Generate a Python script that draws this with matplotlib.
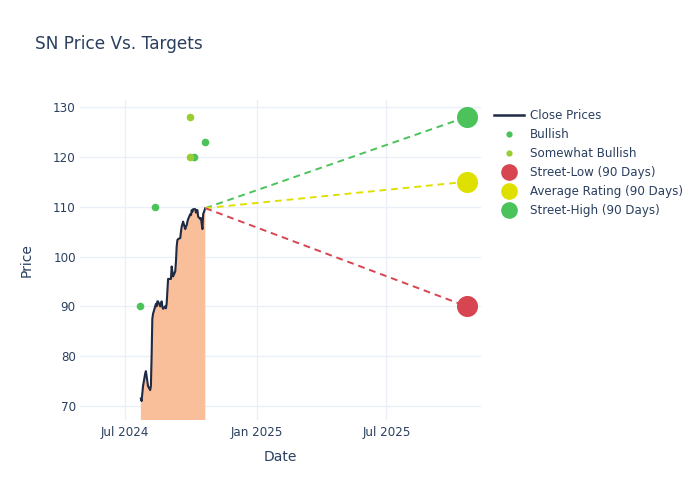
import matplotlib
matplotlib.use("Agg")
import matplotlib.pyplot as plt
import matplotlib.dates as mdates
from matplotlib.lines import Line2D
import pandas as pd

# ---- data ----
price_start = "2024-07-23"
price_end = "2024-10-21"
close_prices = [
    71.5, 71.0, 72.5, 74.0, 76.5, 77.0, 76.0,            # Jul 23-31
    75.0, 74.0, 73.2, 74.0, 80.0, 87.5, 88.5,            # Aug 1-9
    90.0, 90.5, 90.0, 91.0, 91.0,                        # Aug 12-16
    90.0, 90.5, 91.0, 90.0, 89.5,                        # Aug 19-23
    90.0, 89.6, 90.5, 93.0, 95.5,                        # Aug 26-30
    95.5, 95.5, 98.0, 97.0, 96.0,                        # Sep 2-6
    97.0, 99.0, 102.0, 103.3, 103.5,                     # Sep 9-13
    103.7, 105.0, 106.0, 106.5, 107.0,                   # Sep 16-20
    105.5, 106.0, 106.3, 107.0, 107.5,                   # Sep 23-27
    108.5, 108.3, 109.3, 109.0, 109.5,                   # Sep 30-Oct 4
    109.5, 108.8, 109.3, 109.3, 108.0,                   # Oct 7-11
    107.5, 107.7, 106.5, 105.5, 108.5,                   # Oct 14-18
    109.7,                                               # Oct 21
]

bullish_dates = ["2024-07-22", "2024-08-12", "2024-10-05", "2024-10-21"]
bullish_values = [90, 110, 120, 123]
somewhat_bullish_dates = ["2024-09-30", "2024-09-30"]
somewhat_bullish_values = [128, 120]

target_date = "2025-10-21"
street_low = 90
average_rating = 115
street_high = 128

# ---- colours ----
TEXT = "#2a3f5f"
GRID = "#EBF0F8"
LINE = "#1f2a44"
FILL = "#F9BE9A"
GREEN = "#4CC35A"
YGREEN = "#9ACD32"
RED = "#D64550"
YELLOW = "#E0E000"

dates = pd.bdate_range(price_start, price_end)
assert len(dates) == len(close_prices)
last_date = dates[-1]
last_price = close_prices[-1]
tdate = pd.Timestamp(target_date)

fig = plt.figure(figsize=(7, 5), dpi=100)
ax = fig.add_axes([80 / 700, 1 - 420 / 500, 401 / 700, 320 / 500])

ax.fill_between(dates, close_prices, 0, color=FILL, linewidth=0, zorder=2)
ax.plot(dates, close_prices, color=LINE, linewidth=1.5, zorder=3)

dash = (0, (3.5, 2.5))
ax.plot([last_date, tdate], [last_price, street_high], color=GREEN, lw=1.4, ls=dash, zorder=3)
ax.plot([last_date, tdate], [last_price, average_rating], color=YELLOW, lw=1.4, ls=dash, zorder=3)
ax.plot([last_date, tdate], [last_price, street_low], color=RED, lw=1.4, ls=dash, zorder=3)

ax.scatter(pd.to_datetime(bullish_dates), bullish_values, s=30, color=GREEN, zorder=4, linewidths=0)
ax.scatter(pd.to_datetime(somewhat_bullish_dates), somewhat_bullish_values, s=30, color=YGREEN, zorder=4, linewidths=0)

ax.scatter([tdate], [street_low], s=230, color=RED, zorder=5, linewidths=0)
ax.scatter([tdate], [average_rating], s=230, color=YELLOW, zorder=5, linewidths=0)
ax.scatter([tdate], [street_high], s=230, color=GREEN, zorder=5, linewidths=0)

ax.set_xlim(pd.Timestamp("2024-04-29"), pd.Timestamp("2025-11-10"))
ax.set_ylim(67.2, 131.4)
ax.set_yticks([70, 80, 90, 100, 110, 120, 130])
ax.set_xticks([pd.Timestamp("2024-07-01"), pd.Timestamp("2025-01-01"), pd.Timestamp("2025-07-01")])
ax.xaxis.set_major_formatter(mdates.DateFormatter("%b %Y"))

for s in ax.spines.values():
    s.set_visible(False)
ax.grid(True, color=GRID, linewidth=1, zorder=0)
ax.set_axisbelow(True)
ax.tick_params(axis="both", length=0, labelsize=8.6, labelcolor=TEXT)
ax.tick_params(axis="y", pad=3)
ax.tick_params(axis="x", pad=4)

ax.set_xlabel("Date", fontsize=10, color=TEXT, labelpad=8)
ax.set_ylabel("Price", fontsize=10, color=TEXT, labelpad=14)

fig.text(35 / 700, 1 - 44 / 500, "SN Price Vs. Targets", fontsize=12.2, color=TEXT, va="center", ha="left")

handles = [
    Line2D([], [], color=LINE, lw=1.8),
    Line2D([], [], color=GREEN, marker="o", ls="none", markersize=4.5, markeredgewidth=0),
    Line2D([], [], color=YGREEN, marker="o", ls="none", markersize=4.5, markeredgewidth=0),
    Line2D([], [], color=RED, marker="o", ls="none", markersize=12, markeredgewidth=0),
    Line2D([], [], color=YELLOW, marker="o", ls="none", markersize=12, markeredgewidth=0),
    Line2D([], [], color=GREEN, marker="o", ls="none", markersize=12, markeredgewidth=0),
]
labels = ["Close Prices", "Bullish", "Somewhat Bullish", "Street-Low (90 Days)",
          "Average Rating (90 Days)", "Street-High (90 Days)"]
leg = fig.legend(handles, labels, loc="upper left", bbox_to_anchor=(494 / 700, 1 - 109 / 500),
                 frameon=False, fontsize=8.6, labelspacing=0.5, handlelength=2.5,
                 handletextpad=0.5, borderaxespad=0, borderpad=0)
for t in leg.get_texts():
    t.set_color(TEXT)

fig.savefig("out.png", dpi=100, facecolor="white")
